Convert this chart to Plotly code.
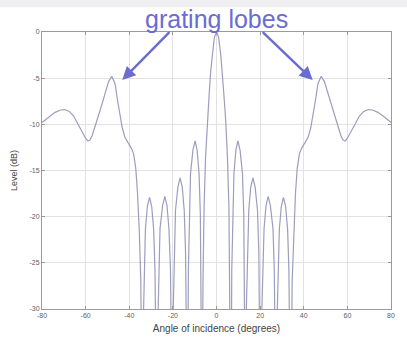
import plotly.graph_objects as go

# Array response versus angle of incidence (dB), sampled along the pattern.
angle_deg = [
    -80, -77, -74, -71.5, -69.5, -67.5, -65.5, -63.5, -61.5, -60, -59, -58, -57,
    -55, -53, -51, -49.5, -48, -46.5, -45.5, -44.3, -43.2, -42, -40.5, -39, -38,
    -37, -36.2, -35.4, -34.7, -34.0,
    -33.6, -33.2, -32.6, -31.7, -30.7, -29.7, -28.8, -28.2, -27.7, -27.3,
    -26.9, -26.5, -25.9, -24.7, -23.7, -22.7, -21.8, -21.1, -20.6, -20.2,
    -19.8, -19.4, -18.8, -17.7, -16.7, -15.7, -14.8, -14.2, -13.7, -13.3,
    -12.9, -12.5, -11.9, -10.8, -9.8, -8.9, -8.0, -7.4, -7.0, -6.6,
    -6.2, -5.7, -5.0, -4.2, -3.3, -2.6, -2.0, -1.0, 0,
    1.0, 2.0, 2.6, 3.3, 4.2, 5.0, 5.7, 6.2,
    6.6, 7.0, 7.4, 8.0, 8.9, 9.8, 10.8, 11.9, 12.5, 12.9,
    13.3, 13.7, 14.2, 14.8, 15.7, 16.7, 17.7, 18.8, 19.4, 19.8,
    20.2, 20.6, 21.1, 21.8, 22.7, 23.7, 24.7, 25.9, 26.5, 26.9,
    27.3, 27.7, 28.2, 28.8, 29.7, 30.7, 31.7, 32.6, 33.2, 33.6,
    34.0, 34.7, 35.4, 36.2, 37, 38, 39, 40.5, 42, 43.2, 44.3, 45.5, 46.5, 48,
    49.5, 51, 53, 55, 57, 58, 59, 60, 61.5, 63.5, 65.5, 67.5, 69.5, 71.5, 74,
    77, 80,
]
level_db = [
    -9.8, -9.2, -8.7, -8.45, -8.4, -8.6, -9.1, -10.0, -10.9, -11.5, -11.8, -11.7, -11.2,
    -9.8, -8.2, -6.6, -5.4, -4.8, -5.6, -7.2, -9.0, -10.4, -11.4, -12.0, -12.6, -13.2,
    -14.8, -17.5, -21.5, -27.0, -45,
    -31.9, -25.9, -21.4, -18.9, -17.9, -18.9, -21.4, -25.9, -31.9, -45,
    -31.8, -25.8, -21.3, -18.8, -17.8, -18.8, -21.3, -25.8, -31.8, -45,
    -29.8, -23.8, -19.3, -16.8, -15.8, -16.8, -19.3, -23.8, -29.8, -45,
    -25.8, -19.8, -15.3, -12.8, -11.8, -12.8, -15.3, -19.8, -25.8, -45,
    -27.0, -19.0, -13.5, -9.5, -6.5, -4.1, -2.6, -0.6, 0,
    -0.6, -2.6, -4.1, -6.5, -9.5, -13.5, -19.0, -27.0,
    -45, -25.8, -19.8, -15.3, -12.8, -11.8, -12.8, -15.3, -19.8, -25.8,
    -45, -29.8, -23.8, -19.3, -16.8, -15.8, -16.8, -19.3, -23.8, -29.8,
    -45, -31.8, -25.8, -21.3, -18.8, -17.8, -18.8, -21.3, -25.8, -31.8,
    -45, -31.9, -25.9, -21.4, -18.9, -17.9, -18.9, -21.4, -25.9, -31.9,
    -45, -27.0, -21.5, -17.5, -14.8, -13.2, -12.6, -12.0, -11.4, -10.4, -9.0, -7.2, -5.6, -4.8,
    -5.4, -6.6, -8.2, -9.8, -11.2, -11.7, -11.8, -11.5, -10.9, -10.0, -9.1, -8.6, -8.4, -8.45, -8.7,
    -9.2, -9.8,
]

x_ticks = [-80, -60, -40, -20, 0, 20, 40, 60, 80]
y_ticks = [0, -5, -10, -15, -20, -25, -30]

# Grating-lobe peaks that the callouts point at (angle, level)
lobe_tips = [(-43.2, -5.2), (44.1, -5.2)]
lobe_tails = [(-20.9, 0.15), (20.5, 0.15)]

curve_color = "#9d9dbd"
note_color = "#6b6bd4"
axis_color = "#9a9a9a"
tick_font = dict(family="Arial, Liberation Sans, sans-serif", size=7, color="#606060")

fig = go.Figure()
fig.add_trace(go.Scatter(
    x=angle_deg, y=level_db, mode="lines",
    line=dict(color=curve_color, width=1.2),
    hoverinfo="skip", showlegend=False,
))

annotations = [
    dict(text="grating lobes", x=0.5, y=1.047, xref="paper", yref="paper",
         xanchor="center", yanchor="middle", showarrow=False,
         font=dict(family="Liberation Sans, Arial, sans-serif", size=25, color=note_color)),
]
for (tx, ty), (sx, sy) in zip(lobe_tips, lobe_tails):
    annotations.append(dict(
        x=tx, y=ty, xref="x", yref="y", ax=sx, ay=sy, axref="x", ayref="y",
        text="", showarrow=True, arrowhead=2, arrowsize=1.1, arrowwidth=2.4,
        arrowcolor=note_color,
    ))

fig.update_layout(
    width=407, height=344,
    margin=dict(l=42, r=13, t=32, b=33),
    paper_bgcolor="white", plot_bgcolor="white",
    annotations=annotations,
    shapes=[dict(type="rect", xref="paper", yref="paper", x0=-0.2, x1=1.1,
                 y0=1.0896, y1=1.12, fillcolor="#f0eff2", line=dict(width=0),
                 layer="below")],
)
fig.update_xaxes(
    range=[-80, 80], tickvals=x_ticks, ticktext=[str(v) for v in x_ticks],
    showgrid=True, gridcolor="#e2e2e2", gridwidth=1, zeroline=False,
    showline=True, linecolor=axis_color, linewidth=1, mirror="ticks",
    ticks="inside", ticklen=3, tickcolor=axis_color, tickfont=tick_font,
    title=dict(text="Angle of incidence (degrees)", standoff=6,
               font=dict(family="Arial, Liberation Sans, sans-serif", size=10, color="#444444")),
)
fig.update_yaxes(
    range=[-30, 0], tickvals=y_ticks, ticktext=[str(v) for v in y_ticks],
    showgrid=True, gridcolor="#e2e2e2", gridwidth=1, zeroline=False,
    showline=True, linecolor=axis_color, linewidth=1, mirror="ticks",
    ticks="inside", ticklen=3, tickcolor=axis_color, tickfont=tick_font,
    title=dict(text="Level (dB)", standoff=10,
               font=dict(family="Arial, Liberation Sans, sans-serif", size=9, color="#444444")),
)

fig.write_html("out.html")
